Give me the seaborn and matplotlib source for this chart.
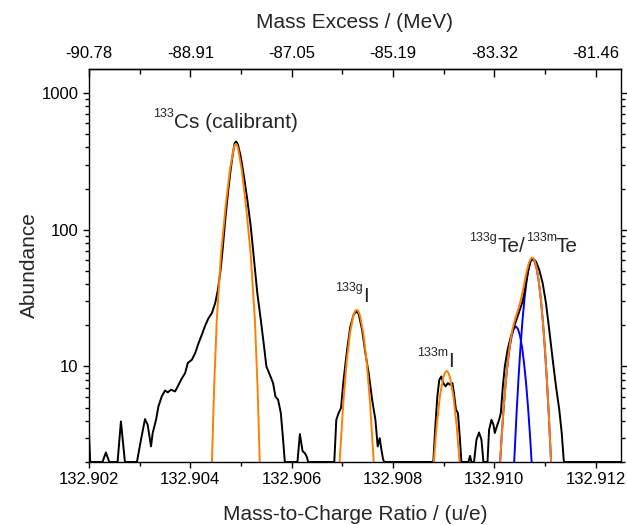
import matplotlib
matplotlib.use("Agg")
import matplotlib.pyplot as plt
import seaborn as sns
from matplotlib.ticker import FixedLocator, NullFormatter, FuncFormatter, LogLocator

black_mz = [132.902000, 132.902024, 132.902267, 132.902333, 132.902400, 132.902564, 132.902630, 132.902709,
            132.902946, 132.903026, 132.903105, 132.903158, 132.903224, 132.903257, 132.903323, 132.903370,
            132.903436, 132.903501, 132.903554, 132.903620, 132.903699, 132.903752, 132.903818, 132.903897,
            132.903950, 132.904030, 132.904095, 132.904162, 132.904228, 132.904293, 132.904360, 132.904426,
            132.904491, 132.904544, 132.904598, 132.904643, 132.904689, 132.904742, 132.904796, 132.904841,
            132.904875, 132.904907, 132.904940, 132.904994, 132.905059, 132.905124, 132.905192, 132.905257,
            132.905322, 132.905390, 132.905455, 132.905501, 132.905568, 132.905633, 132.905679, 132.905732,
            132.905786, 132.905831, 132.905865, 132.906114, 132.906162, 132.906215, 132.906261, 132.906295,
            132.906327, 132.906841, 132.906881, 132.906926, 132.906974, 132.907025, 132.907093, 132.907158,
            132.907223, 132.907277, 132.907322, 132.907390, 132.907455, 132.907520, 132.907588, 132.907653,
            132.907698, 132.907738, 132.907766, 132.907805, 132.907831, 132.908795, 132.908835, 132.908875,
            132.908914, 132.908954, 132.908993, 132.909039, 132.909084, 132.909124, 132.909172, 132.909203,
            132.909243, 132.909282, 132.909322, 132.909350, 132.909488, 132.909520, 132.909548, 132.909599,
            132.909647, 132.909698, 132.909746, 132.909785, 132.909865, 132.909896, 132.909944, 132.909983,
            132.910009, 132.910049, 132.910094, 132.910128, 132.910168, 132.910207, 132.910261, 132.910326,
            132.910391, 132.910459, 132.910524, 132.910558, 132.910603, 132.910657, 132.910708, 132.910756,
            132.910801, 132.910821, 132.910886, 132.910954, 132.911019, 132.911084, 132.911152, 132.911217,
            132.911282, 132.911330, 132.911369, 132.911380, 132.912500]
black_ab = [3.2, 2.0, 2.0, 2.35, 2.0, 2.0, 3.96, 2.0,
            2.0, 2.91, 4.12, 3.74, 2.60, 3.26, 4.07, 5.09,
            6.04, 6.67, 6.46, 6.76, 6.56, 7.15, 8.0, 8.95,
            10.6, 11.2, 12.5, 14.8, 17.1, 19.9, 22.6, 24.6,
            29.1, 36.4, 51, 75.5, 118, 185, 275, 364,
            431, 442, 419, 344, 245, 166, 106, 60.4,
            34.4, 22.0, 14.0, 10.0, 8.7, 7.56, 6.04, 5.71,
            4.56, 2.91, 2.0, 2.0, 3.2, 2.4, 2.32, 2.2,
            2.0, 2.0, 4.07, 4.56, 4.97, 8.0, 13.2, 19.6,
            23.9, 25.3, 24.3, 18.5, 12.5, 8.95, 5.71, 4.07,
            2.60, 2.99, 2.53, 2.08, 2.0, 2.0, 3.64, 6.04,
            8.0, 8.45, 7.56, 7.15, 7.56, 7.35, 7.56, 6.38,
            4.82, 4.56, 2.91, 2.0, 2.0, 2.22, 2.0, 2.0,
            2.91, 3.29, 2.91, 2.0, 2.0, 3.44, 4.07, 3.74,
            3.26, 3.64, 4.07, 4.56, 7.15, 10.0, 13.2, 16.6,
            19.6, 23.2, 27.5, 29.9, 36.4, 48.2, 58.6, 62.1,
            59.6, 58.6, 51, 40.7, 29.1, 18.5, 11.2, 7.15,
            4.82, 3.26, 2.08, 2.0, 2.0]

# fitted peaks (orange)
cs_fit_mz = [132.904426, 132.904470, 132.904522, 132.904607, 132.904703, 132.904782, 132.904853, 132.904878,
             132.904898, 132.904918, 132.904943, 132.905014, 132.905093, 132.905189, 132.905274, 132.905326,
             132.905370]
cs_fit_ab = [2.0, 7.15, 22.0, 67.6, 157, 275, 390, 418, 425, 418, 390, 275, 157, 67.6, 22.0, 7.15, 2.0]

ig_fit_mz = [132.906946, 132.907019, 132.907085, 132.907151, 132.907217, 132.907250, 132.907283,
             132.907316, 132.907349, 132.907415, 132.907481, 132.907547, 132.907620]
ig_fit_ab = [2.0, 5.40, 10.8, 17.5, 23.6, 25.4, 26.0, 25.4, 23.6, 17.5, 10.8, 5.40, 2.0]

im_fit_mz = [132.908805, 132.908861, 132.908927, 132.908993, 132.909026, 132.909059, 132.909092,
             132.909125, 132.909191, 132.909257, 132.909313]
im_fit_ab = [2.0, 3.66, 6.10, 8.30, 9.0, 9.3, 9.0, 8.30, 6.10, 3.66, 2.0]

te_fit_mz = [132.910114, 132.910160, 132.910200, 132.910240, 132.910280, 132.910320, 132.910360, 132.910400,
             132.910440, 132.910480, 132.910520, 132.910560, 132.910600, 132.910640, 132.910680, 132.910720,
             132.910760, 132.910800, 132.910840, 132.910880, 132.910920, 132.910960, 132.911000, 132.911040,
             132.911080, 132.911120]
te_fit_ab = [2.0, 3.75, 5.97, 8.82, 12.1, 15.6, 18.8, 21.6,
             24.1, 26.8, 30.4, 35.4, 42.1, 49.8, 56.9, 61.6,
             62.5, 58.8, 51.3, 41.3, 30.5, 20.9, 13.2, 7.62,
             4.07, 2.0]

# Te components (blue)
teg_mz = [132.910114, 132.910145, 132.910185, 132.910225, 132.910265, 132.910305, 132.910345, 132.910385,
          132.910425, 132.910465, 132.910505, 132.910545, 132.910585, 132.910625, 132.910665, 132.910705,
          132.910736]
teg_ab = [2.0, 3.09, 5.04, 7.65, 10.7, 14.0, 16.85, 18.87, 19.6, 18.87, 16.85, 14.0, 10.7, 7.65, 5.04, 3.09, 2.0]

tem_mz = [132.910392, 132.910436, 132.910476, 132.910516, 132.910556, 132.910596, 132.910636, 132.910676,
          132.910716, 132.910756, 132.910796, 132.910836, 132.910876, 132.910916, 132.910956, 132.910996,
          132.911036, 132.911076, 132.911120]
tem_ab = [2.0, 4.35, 8.07, 13.8, 21.8, 31.6, 42.2, 51.8, 58.6, 61.1, 58.6, 51.8, 42.2, 31.6, 21.8, 13.8,
          8.07, 4.35, 2.0]

mz_ticks = [132.902, 132.904, 132.906, 132.908, 132.910, 132.912]
mz_minor = [132.903, 132.905, 132.907, 132.909, 132.911]

# m/q -> mass excess (add electron, u -> MeV)
def to_me(m):
    return (m + 0.00054858 - 133.0) * 931.494

def to_mz(e):
    return e / 931.494 + 133.0 - 0.00054858


sns.set_theme(style="ticks")
plt.rcParams['font.family'] = ['Liberation Sans', 'DejaVu Sans']
plt.rcParams['axes.linewidth'] = 1.0

W, H = 627, 525
fig = plt.figure(figsize=(W / 100, H / 100), dpi=100)
ax = fig.add_axes([89 / W, 1 - 462 / H, (621 - 89) / W, (462 - 69) / H])

lw = 1.4
sns.lineplot(x=teg_mz, y=teg_ab, color='#0000ff', lw=lw, ax=ax, estimator=None, sort=False)
sns.lineplot(x=tem_mz, y=tem_ab, color='#0000ff', lw=lw, ax=ax, estimator=None, sort=False)
sns.lineplot(x=black_mz, y=black_ab, color='black', lw=lw, ax=ax, estimator=None, sort=False)
for xs, ys in [(cs_fit_mz, cs_fit_ab), (ig_fit_mz, ig_fit_ab), (im_fit_mz, im_fit_ab), (te_fit_mz, te_fit_ab)]:
    sns.lineplot(x=xs, y=ys, color='#ff8000', lw=lw, ax=ax, estimator=None, sort=False)

ax.set_yscale('log')
ax.set_ylim(2, 1500)
ax.set_xlim(132.902, 132.9125)

ax.set_xticks(mz_ticks, [f'{v:.3f}' for v in mz_ticks])
ax.xaxis.set_minor_locator(FixedLocator(mz_minor))
ax.yaxis.set_major_locator(LogLocator(base=10))
ax.yaxis.set_minor_locator(LogLocator(base=10, subs=range(2, 10)))
ax.yaxis.set_major_formatter(FuncFormatter(lambda v, p: f'{v:g}'))
ax.yaxis.set_minor_formatter(NullFormatter())

ax.tick_params(axis='x', which='both', top=False, bottom=True, direction='out', colors='black')
ax.tick_params(axis='y', which='both', left=True, right=True, direction='out', colors='black')
ax.tick_params(which='major', length=4.5, width=1.0, labelsize=12, pad=3)
ax.tick_params(which='minor', length=2.6, width=1.0)
for s in ax.spines.values():
    s.set_color('black')
    s.set_linewidth(1.0)

ax.set_xlabel('Mass-to-Charge Ratio / (u/e)', fontsize=15, labelpad=12.5)
ax.set_ylabel('Abundance', fontsize=15, labelpad=2)

secax = ax.secondary_xaxis('top', functions=(to_me, to_mz))
me_ticks = [to_me(v) for v in mz_ticks]
secax.set_xticks(me_ticks, [f'{v:.2f}' for v in me_ticks])
secax.xaxis.set_minor_locator(FixedLocator([to_me(v) for v in mz_minor]))
secax.tick_params(which='both', direction='in', colors='black', labelsize=12)
secax.tick_params(which='major', length=6, width=1.0, pad=6)
secax.tick_params(which='minor', length=3.5, width=1.0)
secax.spines['top'].set_linewidth(1.0)
secax.set_xlabel('Mass Excess / (MeV)', fontsize=15, labelpad=13)


# peak labels: big element text, small superscript mass number
def main_text(x, y, s):
    fig.text(x / W, 1 - y / H, s, fontsize=15, ha='left', va='baseline')

def sup_text(x, y, s, ha='right'):
    fig.text(x / W, 1 - (y - 10.3) / H, s, fontsize=9, ha=ha, va='baseline')


main_text(173.5, 127.5, 'Cs (calibrant)')
sup_text(173.5, 127.5, '133')
main_text(363.3, 301.7, 'I')
sup_text(363.3, 301.7, '133g')
main_text(448.5, 366.7, 'I')
sup_text(448.5, 366.7, '133m')
main_text(497.3, 251.7, 'Te/')
sup_text(497.3, 251.7, '133g')
sup_text(526.5, 251.7, '133m', ha='left')
main_text(556.0, 251.7, 'Te')

fig.savefig('out.png', dpi=100)
